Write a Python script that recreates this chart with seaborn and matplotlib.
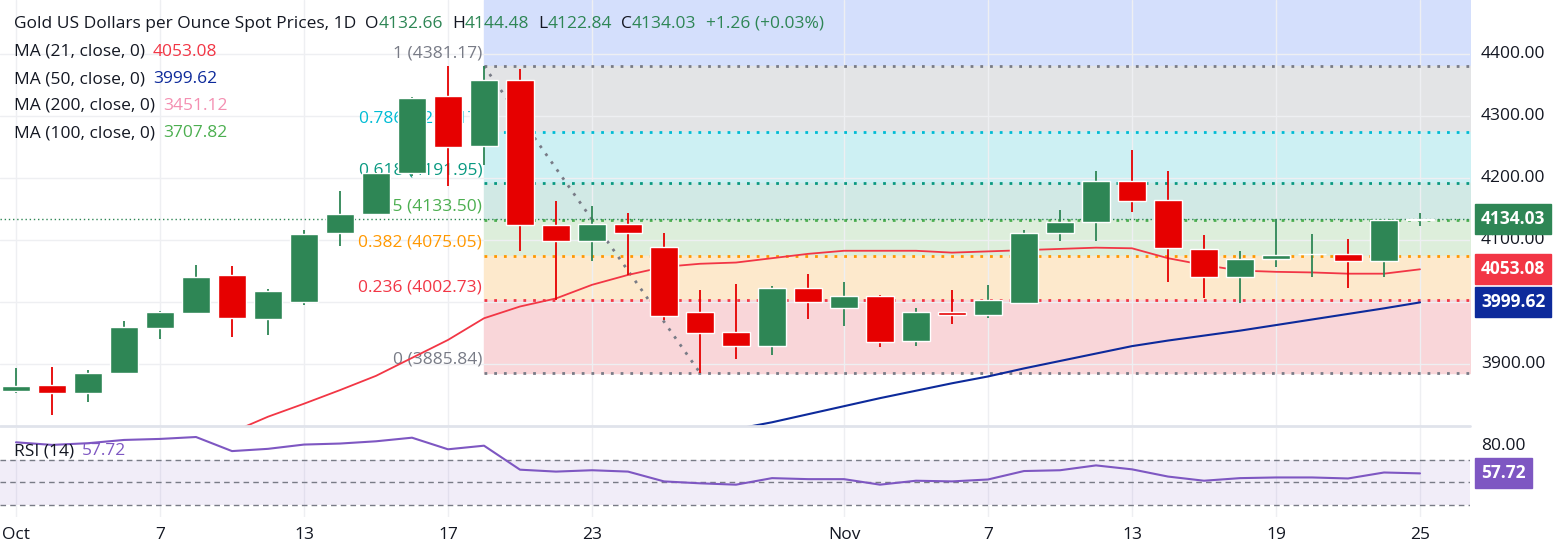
import numpy as np
import pandas as pd
import matplotlib
matplotlib.use("Agg")
import matplotlib.pyplot as plt
import seaborn as sns

# daily OHLC, Oct 1 .. Nov 25 (trading days)
opens = [3857, 3866, 3854, 3886, 3959, 3983, 4044, 3973, 4001, 4111,
         4143, 4209, 4333, 4253, 4358, 4125, 4099, 4126, 4089, 3984,
         3952, 3930, 4023, 3990, 4010, 3938, 3984, 3980, 3999, 4111,
         4129, 4196, 4165, 4086, 4040, 4069, 4077, 4078, 4067, 4132.66]
highs = [3893, 3896, 3890, 3970, 3986, 4060, 4059, 4022, 4117, 4180,
         4211, 4332, 4382, 4381.17, 4376, 4163, 4156, 4144, 4111, 4020,
         4029, 4026, 4046, 4032, 4011, 3991, 4020, 4028, 4116, 4149,
         4212, 4246, 4212, 4109, 4083, 4135, 4110, 4102, 4133, 4144.48]
lows = [3853, 3818, 3838, 3884, 3941, 3983, 3944, 3947, 3995, 4091,
        4141, 4203, 4188, 4221, 4083, 4004, 4067, 4044, 3972, 3885.84,
        3909, 3915, 3973, 3962, 3928, 3930, 3965, 3975, 3997, 4098,
        4099, 4146, 4033, 4007, 3998, 4056, 4040, 4023, 4041, 4122.84]
closes = [3864, 3854, 3885, 3960, 3984, 4041, 3975, 4018, 4110, 4143,
          4208, 4330, 4251, 4358, 4124, 4098, 4126, 4111, 3978, 3951,
          3930, 4023, 4001, 4010, 3936, 3984, 3980, 4004, 4112, 4130,
          4196, 4164, 4087, 4040, 4070, 4076, 4078.5, 4067, 4133, 4134.03]

ma21 = [np.nan] * 6 + [3790, 3815, 3836, 3858, 3881, 3910, 3939, 3974, 3993,
        4006, 4028, 4044, 4057, 4062, 4064, 4071, 4078, 4083, 4083, 4083,
        4080, 4082, 4084, 4086, 4088, 4087, 4071, 4060, 4051, 4049, 4048,
        4046, 4046, 4053.08]
ma50 = [np.nan] * 20 + [3795, 3806, 3819, 3832, 3845, 3857, 3869, 3880, 3893,
        3905, 3917, 3929, 3938, 3946, 3954, 3963, 3972, 3981, 3990, 3999.62]
rsi = [85.3, 83.0, 84.5, 87.4, 88.3, 90.0, 77.5, 79.5, 83.3, 84.2,
       86.2, 89.4, 79.1, 82.3, 61.0, 59.3, 60.5, 59.3, 50.6, 48.9,
       47.7, 53.5, 52.6, 52.6, 47.7, 51.2, 50.6, 52.3, 59.8, 60.5,
       64.8, 61.3, 54.9, 51.2, 53.5, 54.1, 54.1, 53.2, 58.5, 57.72]

date_ticks = [0, 4, 8, 12, 16, 23, 27, 31, 35, 39]
date_labels = ["Oct", "7", "13", "17", "23", "Nov", "7", "13", "19", "25"]
price_ticks = [3900, 4000, 4100, 4200, 4300, 4400]

fib_ratios = ["1", "0.786", "0.618", "0.5", "0.382", "0.236", "0"]
fib_levels = [4381.17, 4275.17, 4191.95, 4133.50, 4075.05, 4002.73, 3885.84]
fib_start, fib_low_idx = 13, 19

GREEN, RED = "#2e8655", "#e60000"

df = pd.DataFrame({"i": np.arange(len(opens)), "open": opens, "high": highs,
                   "low": lows, "close": closes, "ma21": ma21, "ma50": ma50, "rsi": rsi})

sns.set_style("white")
plt.rcParams["font.family"] = ["Open Sans", "DejaVu Sans"]

fig = plt.figure(figsize=(15.64, 5.56), dpi=100)
W, H = 1564, 556
right_px = 1470
ax = fig.add_axes([0, 1 - 426 / H, right_px / W, 426 / H])
ax2 = fig.add_axes([0, 1 - 517 / H, right_px / W, (517 - 428) / H])

xlim = (-16 / 36, (right_px - 16) / 36)
for a in (ax, ax2):
    a.set_xlim(*xlim)
    for s in a.spines.values():
        s.set_visible(False)
    a.set_xticks(date_ticks)
    a.grid(axis="x", color="#eeeff2", lw=1)
    a.tick_params(length=0)
ax.set_ylim(3800, 4488)
ax.set_yticks(price_ticks)
ax.grid(axis="y", color="#eeeff2", lw=1)
ax.set_xticklabels([])
ax.set_yticklabels([])
ax2.set_ylim(19, 98)
ax2.set_yticks([])
ax2.set_xticklabels(date_labels, fontsize=12.5, color="#131722")
ax2.tick_params(axis="x", pad=7)

# fib retracement bands
band_cols = ["#e3e4e6", "#cdf0f3", "#d1e9e5", "#ddeedb", "#fde9cc", "#f9d6d9"]
line_cols = ["#787b86", "#00bcd4", "#089981", "#4caf50", "#ff9800", "#f23645", "#787b86"]
x0, x1 = fib_start, xlim[1]
ax.fill_between([x0, x1], fib_levels[0], 4488, color="#d4dffc", zorder=0)
for k in range(6):
    ax.fill_between([x0, x1], fib_levels[k + 1], fib_levels[k], color=band_cols[k], zorder=0)
for r, lv, c in zip(fib_ratios, fib_levels, line_cols):
    ax.plot([x0, x1], [lv, lv], color=c, lw=2, ls=(0, (1, 2.5)), zorder=1)
    ax.text(x0 - 0.05, lv + 8, f"{r} ({lv:.2f})", color=c, fontsize=12.5,
            ha="right", va="bottom", zorder=2)
ax.plot([fib_start, fib_low_idx], [fib_levels[0], fib_levels[-1]], color="#787b86", lw=2,
        ls=(0, (1, 2.5)), zorder=1)

# current price line
ax.axhline(closes[-1], color="#2e8655", lw=1, ls=(0, (1, 2)), zorder=1)

# candles
up = df["close"] >= df["open"]
colors = np.where(up, GREEN, RED)
ax.vlines(df["i"], df["low"], df["high"], colors=colors, lw=1.3, zorder=3)
body_lo = np.minimum(df["open"], df["close"])
body_h = np.maximum(np.abs(df["close"] - df["open"]), 1.5)
ax.bar(df["i"], body_h, bottom=body_lo, width=0.8, color=colors, zorder=4)

sns.lineplot(data=df, x="i", y="ma21", ax=ax, color="#f23645", lw=1.3, zorder=2)
sns.lineplot(data=df, x="i", y="ma50", ax=ax, color="#0d2a9b", lw=1.5, zorder=2)
ax.set_xlabel("")
ax.set_ylabel("")

# RSI
ax2.axhspan(30, 70, color="#7e57c2", alpha=0.1, lw=0)
for v in (70, 50, 30):
    ax2.axhline(v, color="#787b86", lw=1, ls=(0, (4, 3)))
sns.lineplot(data=df, x="i", y="rsi", ax=ax2, color="#7e57c2", lw=1.5)
ax2.set_xlabel("")
ax2.set_ylabel("")
ax.axhline(3800, color="#e0e3eb", lw=2, clip_on=False)

# right price scale
def ypix(p):
    return 1 - ((4488 - p) / 688 * 426) / H

for p in price_ticks:
    fig.text(1481 / W, ypix(p), f"{p:.2f}", fontsize=12.5, va="center", color="#131722")
for val, c in [(closes[-1], "#2e8655"), (ma21[-1], "#f23645"), (ma50[-1], "#0d2a9b")]:
    fig.text(1481 / W, ypix(val), f"{val:.2f}", fontsize=12.5, va="center", color="white",
             fontweight="bold",
             bbox=dict(boxstyle="square,pad=0.35", fc=c, ec=c))
rsi_y = 1 - (428 + (98 - rsi[-1]) / 79 * 89) / H
fig.text(1481 / W, 1 - 446 / H, "80.00", fontsize=12.5, va="center", color="#131722")
fig.text(1481 / W, rsi_y, f"{rsi[-1]:.2f}", fontsize=12.5, va="center", color="white",
         fontweight="bold", bbox=dict(boxstyle="square,pad=0.35", fc="#7e57c2", ec="#7e57c2"))

# legend header: (text, colour, gap after)
def tline(y, parts):
    x = 14
    for txt, c, gap in parts:
        t = fig.text(x / W, 1 - y / H, txt, fontsize=12.5, color=c, va="center")
        fig.canvas.draw()
        x += t.get_window_extent().width + gap

D = "#131722"
tline(24, [("Gold US Dollars per Ounce Spot Prices, 1D", D, 9), ("O", D, 0),
           ("4132.66", GREEN, 9), ("H", D, 0), ("4144.48", GREEN, 9), ("L", D, 0),
           ("4122.84", GREEN, 9), ("C", D, 0), ("4134.03", GREEN, 9),
           ("+1.26 (+0.03%)", GREEN, 0)])
tline(52, [("MA (21, close, 0)", D, 8), ("4053.08", "#f23645", 0)])
tline(79, [("MA (50, close, 0)", D, 8), ("3999.62", "#0d2a9b", 0)])
tline(106, [("MA (200, close, 0)", D, 8), ("3451.12", "#f48fb1", 0)])
tline(133, [("MA (100, close, 0)", D, 8), ("3707.82", "#4caf50", 0)])
tline(451, [("RSI (14)", D, 8), ("57.72", "#7e57c2", 0)])

fig.savefig("out.png", dpi=100)
